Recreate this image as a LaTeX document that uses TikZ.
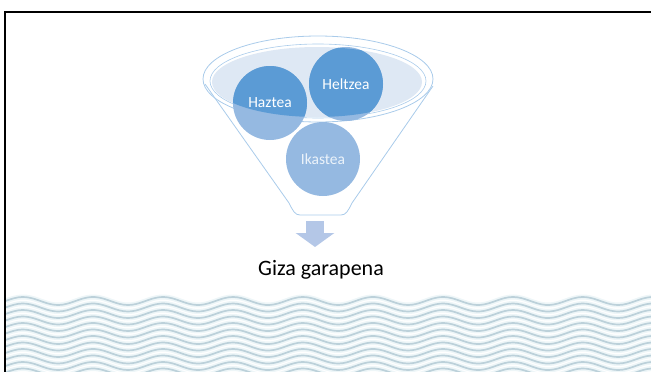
\documentclass[tikz,border=0pt]{standalone}
\usepackage{fontspec}
\setmainfont{Carlito}
\usetikzlibrary{arrows.meta}
\definecolor{funnelline}{HTML}{A9CBEA}
\definecolor{ballblue}{HTML}{5B9BD5}
\definecolor{balllight}{HTML}{95B9E1}
\definecolor{rimfill}{HTML}{DEE8F4}
\definecolor{arrowblue}{HTML}{B4C7E7}
\definecolor{waveline}{HTML}{BCD1DA}
\definecolor{wavetint}{HTML}{EEF6F8}

\tikzset{
  ball/.style={circle, minimum size=74pt, inner sep=0pt, fill=balllight, text=white,
    font=\fontsize{15.5}{18}\selectfont,
    path picture={\fill[ballblue] (rim) ellipse [x radius=105pt, y radius=35pt];}},
  funnel/.style={funnelline, line width=0.8pt}
}

\begin{document}
\begin{tikzpicture}[x=1pt, y=-1pt]
\useasboundingbox (0,0) rectangle (651,372);

% waves
\begin{scope}
\clip (6,290) rectangle (651,372);
\foreach \r in {0,...,11}
  \draw[wavetint, line width=5pt] plot[domain=6:651, samples=160, smooth] (\x, {301+6.5*\r-4*cos((\x-23)*5.142857)});
\foreach \r in {0,...,11}
  \draw[waveline, line width=1.7pt] plot[domain=6:651, samples=160, smooth] (\x, {301+6.5*\r-4*cos((\x-23)*5.142857)});
\end{scope}

% frame
\draw[line width=2pt] (5,372) -- (5,11.5) -- (651,11.5);

% funnel
\coordinate (rim) at (317,82);
\draw[funnel] (205,84) -- (289,203) .. controls (293,211) and (295,215) .. (300,215)
  -- (341,215) .. controls (346,215) and (348,211) .. (352,203) -- (433,86);
\draw[funnel] (318,79) ellipse [x radius=115pt, y radius=43pt];
\draw[funnel, line width=0.6pt] (318,81) ellipse [x radius=108pt, y radius=37pt];
\fill[rimfill] (rim) ellipse [x radius=105pt, y radius=35pt];

\node[ball] (haztea) at (270,103) {Haztea};
\node[ball] (heltzea) at (346,84) {Heltzea};
\node[ball, text=white!82!balllight] (ikastea) at (323,159) {Ikastea};

% result
\coordinate (fbot) at (315,221);
\coordinate (atip) at (315,247);
\draw[arrowblue, line width=18pt, -{Triangle[length=14pt, width=38pt]}] (fbot) -- (atip);
\node[anchor=base, font=\fontsize{22}{26}\selectfont] (result) at (321,275) {Giza garapena};

\end{tikzpicture}
\end{document}
